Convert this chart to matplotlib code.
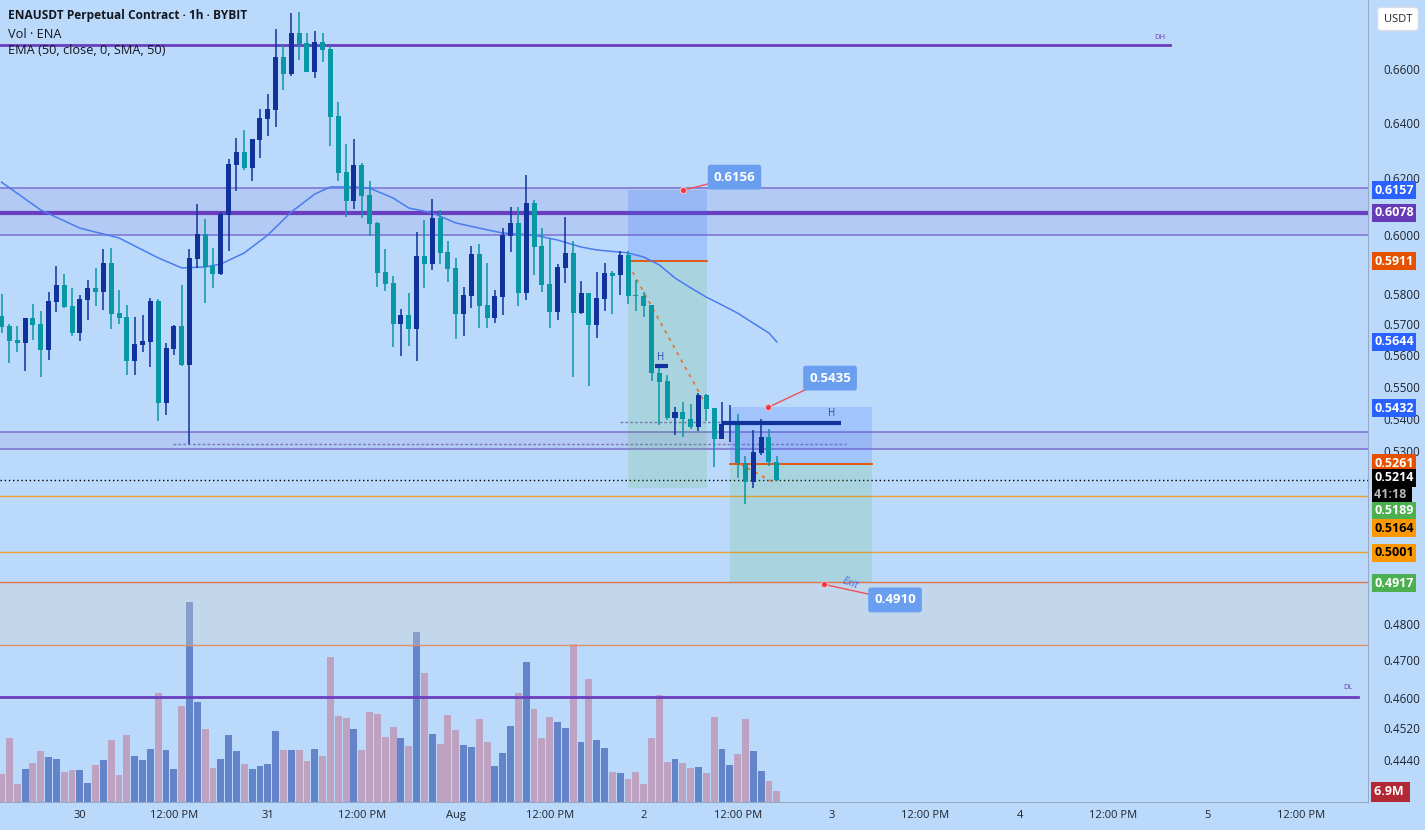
import matplotlib
matplotlib.use("Agg")
import matplotlib.pyplot as plt
import matplotlib.transforms as mtransforms
import numpy as np

plt.rcParams["font.family"] = ["Open Sans", "DejaVu Sans"]

# ENAUSDT 1h candles, hours counted from Jul 30 00:00
first_hour = -10
opens = [0.5727, 0.5694, 0.5649, 0.5639, 0.5721, 0.5701, 0.5617, 0.5773, 0.5831, 0.5760,
         0.5672, 0.5780, 0.5821, 0.5807, 0.5905, 0.5737, 0.5724, 0.5582, 0.5633, 0.5643,
         0.5777, 0.5449, 0.5620, 0.5694, 0.5569, 0.5918, 0.6003, 0.5895, 0.5868, 0.6070,
         0.6246, 0.6293, 0.6235, 0.6336, 0.6413, 0.6446, 0.6645, 0.6581, 0.6738, 0.6699,
         0.6589, 0.6703, 0.6676, 0.6424, 0.6221, 0.6119, 0.6246, 0.6140, 0.6042, 0.5874,
         0.5837, 0.5701, 0.5731, 0.5685, 0.5929, 0.5901, 0.6059, 0.5942, 0.5888, 0.5734,
         0.5794, 0.5935, 0.5764, 0.5721, 0.5790, 0.5997, 0.6042, 0.5804, 0.6112, 0.5963,
         0.5834, 0.5740, 0.5888, 0.5939, 0.5737, 0.5804, 0.5698, 0.5784, 0.5871, 0.5864,
         0.5932, 0.5797, 0.5794, 0.5764, 0.5543, 0.5518, 0.5402, 0.5421, 0.5399, 0.5374,
         0.5474, 0.5433, 0.5337, 0.5384, 0.5384, 0.5264, 0.5207, 0.5294, 0.5344, 0.5267]
highs = [0.5800, 0.5701, 0.5694, 0.5721, 0.5767, 0.5744, 0.5807, 0.5895, 0.5868, 0.5821,
         0.5797, 0.5847, 0.5888, 0.5952, 0.5956, 0.5814, 0.5764, 0.5724, 0.5731, 0.5787,
         0.5784, 0.5639, 0.5698, 0.5831, 0.5952, 0.6108, 0.6056, 0.5956, 0.6080, 0.6268,
         0.6344, 0.6373, 0.6340, 0.6450, 0.6506, 0.6753, 0.6691, 0.6816, 0.6820, 0.6738,
         0.6745, 0.6738, 0.6687, 0.6476, 0.6322, 0.6340, 0.6253, 0.6189, 0.6045, 0.5952,
         0.5861, 0.5750, 0.5804, 0.6010, 0.6052, 0.6126, 0.6087, 0.5980, 0.5922, 0.5824,
         0.5963, 0.5970, 0.5905, 0.5814, 0.6024, 0.6098, 0.6098, 0.6211, 0.6122, 0.6024,
         0.5987, 0.5901, 0.6063, 0.5980, 0.5844, 0.5804, 0.5874, 0.5905, 0.5878, 0.5946,
         0.5946, 0.5847, 0.5807, 0.5764, 0.5562, 0.5537, 0.5436, 0.5452, 0.5446, 0.5480,
         0.5477, 0.5433, 0.5452, 0.5443, 0.5415, 0.5285, 0.5365, 0.5399, 0.5368, 0.5285]
lows = [0.5672, 0.5575, 0.5611, 0.5550, 0.5649, 0.5531, 0.5585, 0.5740, 0.5754, 0.5662,
        0.5646, 0.5714, 0.5760, 0.5747, 0.5685, 0.5701, 0.5537, 0.5537, 0.5611, 0.5563,
        0.5393, 0.5411, 0.5601, 0.5566, 0.5322, 0.5888, 0.5770, 0.5821, 0.5865, 0.5946,
        0.6154, 0.6228, 0.6189, 0.6271, 0.6351, 0.6384, 0.6521, 0.6573, 0.6634, 0.6589,
        0.6566, 0.6626, 0.6314, 0.6189, 0.6063, 0.6091, 0.6059, 0.5997, 0.5824, 0.5811,
        0.5626, 0.5598, 0.5630, 0.5582, 0.5821, 0.5881, 0.5901, 0.5841, 0.5652, 0.5662,
        0.5754, 0.5688, 0.5688, 0.5704, 0.5731, 0.5942, 0.5760, 0.5780, 0.5864, 0.5807,
        0.5688, 0.5714, 0.5837, 0.5531, 0.5734, 0.5502, 0.5656, 0.5744, 0.5734, 0.5797,
        0.5767, 0.5744, 0.5724, 0.5518, 0.5380, 0.5396, 0.5350, 0.5344, 0.5368, 0.5362,
        0.5393, 0.5252, 0.5337, 0.5328, 0.5219, 0.5142, 0.5189, 0.5288, 0.5255, 0.5210]
closes = [0.5691, 0.5646, 0.5639, 0.5721, 0.5698, 0.5617, 0.5777, 0.5831, 0.5757, 0.5672,
          0.5784, 0.5821, 0.5807, 0.5905, 0.5734, 0.5721, 0.5582, 0.5636, 0.5646, 0.5777,
          0.5449, 0.5623, 0.5694, 0.5569, 0.5922, 0.6003, 0.5891, 0.5868, 0.6073, 0.6249,
          0.6293, 0.6235, 0.6340, 0.6417, 0.6450, 0.6645, 0.6581, 0.6738, 0.6695, 0.6589,
          0.6703, 0.6672, 0.6420, 0.6217, 0.6119, 0.6246, 0.6136, 0.6038, 0.5871, 0.5834,
          0.5701, 0.5731, 0.5685, 0.5929, 0.5901, 0.6059, 0.5939, 0.5884, 0.5734, 0.5797,
          0.5935, 0.5760, 0.5721, 0.5794, 0.6000, 0.6042, 0.5804, 0.6112, 0.5959, 0.5831,
          0.5740, 0.5891, 0.5939, 0.5737, 0.5804, 0.5698, 0.5787, 0.5871, 0.5861, 0.5932,
          0.5794, 0.5794, 0.5760, 0.5543, 0.5515, 0.5402, 0.5421, 0.5399, 0.5374, 0.5474,
          0.5430, 0.5337, 0.5384, 0.5390, 0.5264, 0.5207, 0.5297, 0.5344, 0.5267, 0.5214]
volumes_m = [17.6, 40.1, 11.3, 20.7, 24.5, 32.0, 28.2, 27.0, 18.8, 20.1,
             20.1, 11.9, 23.2, 26.3, 38.9, 16.9, 42.0, 28.8, 26.3, 33.2,
             68.3, 32.6, 20.7, 60.2, 125.4, 62.7, 45.8, 21.3, 27.0, 42.0,
             32.0, 23.8, 20.7, 22.6, 23.8, 44.5, 32.6, 32.6, 32.6, 25.7,
             33.2, 28.8, 90.9, 53.9, 52.7, 45.8, 32.6, 56.4, 55.2, 40.8,
             47.0, 40.1, 35.1, 106.6, 80.9, 42.6, 36.4, 54.5, 45.1, 35.7,
             34.5, 52.0, 37.6, 22.6, 30.7, 47.7, 68.3, 87.8, 58.3, 40.1,
             53.3, 50.2, 46.4, 99.1, 37.6, 77.1, 38.9, 33.9, 18.8, 18.2,
             14.4, 18.8, 11.3, 40.1, 67.1, 25.1, 27.0, 24.5, 21.3, 21.9,
             18.2, 53.3, 33.2, 23.2, 30.1, 52.0, 32.0, 19.4, 13.2, 6.9]

# EMA(50) line
ema_hours = [-10, -5, 0, 5, 10, 13, 16, 18, 21, 24, 27, 30, 32, 35, 37, 40, 42, 45,
             48, 51, 54, 58, 61, 64, 66, 70, 72, 74, 76, 78, 80, 82, 84, 86, 88, 89]
ema_values = [0.6185, 0.6087, 0.6024, 0.5990, 0.5922, 0.5888, 0.5891, 0.5901, 0.5939,
              0.6000, 0.6080, 0.6143, 0.6168, 0.6168, 0.6164, 0.6129, 0.6094, 0.6077,
              0.6042, 0.6024, 0.6007, 0.6000, 0.5983, 0.5959, 0.5949, 0.5939, 0.5925,
              0.5898, 0.5854, 0.5821, 0.5790, 0.5764, 0.5737, 0.5704, 0.5672, 0.5643]

# drawn levels
daily_high, daily_low = 0.6692, 0.4602
upper_zone = (0.6000, 0.6165)
key_level = 0.6078
lower_zone = (0.5307, 0.5360)
orange_levels = [0.5164, 0.5001]
exit_zone = (0.4742, 0.4917)
last_price = 0.5214

short_pos = {"start": 70.0, "end": 80.1, "stop": 0.6156, "entry": 0.5911, "target": 0.5189}
long_pos = {"start": 83.0, "end": 101.1, "top": 0.5435, "entry": 0.5261, "bottom": 0.4917}

xtick_hours = [0, 12, 24, 36, 48, 60, 72, 84, 96, 108, 120, 132, 144, 156]
xtick_labels = ["30", "12:00 PM", "31", "12:00 PM", "Aug", "12:00 PM", "2", "12:00 PM",
                "3", "12:00 PM", "4", "12:00 PM", "5", "12:00 PM"]
ytick_values = [0.6600, 0.6400, 0.6200, 0.6000, 0.5800, 0.5700, 0.5600, 0.5500, 0.5400,
                0.5300, 0.4800, 0.4700, 0.4600, 0.4520, 0.4440]

# price scale badges: text, position, face colour, text colour
badge_text = ["0.6157", "0.6078", "0.5911", "0.5644", "0.5432", "0.5261",
              "0.5214", "41:18 ", "0.5189", "0.5164", "0.5001", "0.4917"]
badge_pos = [0.6157, 0.6078, 0.5911, 0.5644, 0.5432, 0.5263,
             0.5220, 0.5170, 0.5121, 0.5071, 0.4999, 0.4913]
badge_face = ["#2962ff", "#673ab7", "#e65100", "#2962ff", "#2962ff", "#e65100",
              "black", "black", "#4caf50", "#ff9800", "#ff9800", "#4caf50"]
badge_color = ["white", "white", "white", "white", "white", "white",
               "white", "#b8b8b8", "white", "black", "black", "white"]

BG = "#bbdafb"
UP = "#10329a"
DOWN = "#0897a5"
VOL_UP = "#6384c8"
VOL_DOWN = "#bda2c2"
PURPLE = "#6a3fbf"
ZONE_LINE = "#7b6fd0"

hours = np.arange(first_hour, first_hour + len(opens))
o = np.array(opens); h = np.array(highs); l = np.array(lows); c = np.array(closes)
up = c >= o

fig = plt.figure(figsize=(14.25, 8.30), dpi=100)
fig.patch.set_facecolor(BG)
rect = [0, 28 / 830, 1368 / 1425, 802 / 830]

# volume pane underneath
axv = fig.add_axes(rect, zorder=1)
axv.set_facecolor(BG)
axv.bar(hours, volumes_m, width=0.88, color=np.where(up, VOL_UP, VOL_DOWN))
axv.set_ylim(0, 503)
axv.set_xlim(-10.2, 164.5)
axv.axis("off")

ax = fig.add_axes(rect, zorder=2)
ax.patch.set_alpha(0)
ax.set_yscale("log")
ax.set_xlim(-10.2, 164.5)
ax.set_ylim(0.4333, 0.6867)

# horizontal levels and zones
ax.axhspan(*upper_zone, color="#7e57c2", alpha=0.12, lw=0, zorder=0)
ax.axhspan(*lower_zone, color="#7e57c2", alpha=0.12, lw=0, zorder=0)
for y in list(upper_zone) + list(lower_zone):
    ax.axhline(y, color=ZONE_LINE, lw=1.1, zorder=1)
ax.axhline(key_level, color=PURPLE, lw=3, zorder=1)
ax.axhspan(*exit_zone, color="#d0d0d0", alpha=0.35, lw=0, zorder=0)
ax.axhline(exit_zone[1], color="#e5734a", lw=1, zorder=1)
ax.axhline(exit_zone[0], color="#e0906a", lw=1, zorder=1)
for y in orange_levels:
    ax.axhline(y, color="#f0a030", lw=1, zorder=1)
ax.plot([-10.2, 139.2], [daily_high, daily_high], color=PURPLE, lw=2, zorder=1)
ax.plot([-10.2, 163.2], [daily_low, daily_low], color=PURPLE, lw=2, zorder=1)
ax.text(137.9, 0.6722, "DH", fontsize=5.5, color=PURPLE, ha="center", va="center")
ax.text(161.9, 0.4627, "DL", fontsize=5.5, color=PURPLE, ha="center", va="center")
ax.axhline(last_price, color="black", lw=1, ls=(0, (1, 2)), zorder=1)
ax.plot([11.9, 97.8], [0.5323, 0.5323], color="#7a78b8", lw=1, ls=(0, (2, 1.5)), zorder=1)
ax.plot([69.0, 82.0], [0.5389, 0.5389], color="#7a78b8", lw=1, ls=(0, (2, 1.5)), zorder=1)

# position boxes
sp = short_pos
ax.fill_between([sp["start"], sp["end"]], sp["entry"], sp["stop"], color="#2962ff", alpha=0.18, lw=0, zorder=1)
ax.fill_between([sp["start"], sp["end"]], sp["target"], sp["entry"], color="#4caf50", alpha=0.16, lw=0, zorder=1)
ax.plot([sp["start"], sp["end"]], [sp["entry"], sp["entry"]], color="#e65100", lw=1.3, zorder=2)
lp = long_pos
ax.fill_between([lp["start"], lp["end"]], lp["entry"], lp["top"], color="#2962ff", alpha=0.18, lw=0, zorder=1)
ax.fill_between([lp["start"], lp["end"]], lp["bottom"], lp["entry"], color="#4caf50", alpha=0.16, lw=0, zorder=1)
ax.plot([lp["start"], lp["end"]], [lp["entry"], lp["entry"]], color="#e65100", lw=1.3, zorder=2)
ax.plot([70.6, 80.1], [0.5874, 0.5436], color="#e8702a", lw=1.2, ls=(0, (2, 3)), zorder=2)
ax.plot([84.3, 88.5], [0.5261, 0.5207], color="#e8702a", lw=1.2, ls=(0, (2, 3)), zorder=2)

# EMA
ax.plot(ema_hours, ema_values, color="#4a7cf0", lw=1.1, zorder=3)

# candles
colors = np.where(up, UP, DOWN)
ax.vlines(hours, l, h, colors=colors, lw=1.1, zorder=4)
body_low = np.minimum(o, c)
body_h = np.maximum(np.abs(c - o), 0.0003)
ax.bar(hours, body_h, bottom=body_low, width=0.64, color=colors, lw=0, zorder=5)

# swing high markers
ax.plot([73.4, 75.1], [0.5565, 0.5565], color=UP, lw=3, solid_capstyle="butt", zorder=5)
ax.text(74.2, 0.5594, "H", fontsize=7, color="#2a4aa0", ha="center", va="center", zorder=6)
ax.plot([82.0, 97.2], [0.5386, 0.5386], color=UP, lw=3, solid_capstyle="butt", zorder=5)
ax.text(96.0, 0.5417, "H", fontsize=7, color="#2a4aa0", ha="center", va="center", zorder=6)

# price callouts
callouts = [((77.0, 0.6156), (83.6, 0.6203), "0.6156"),
            ((87.9, 0.5435), (95.8, 0.5527), "0.5435"),
            ((95.0, 0.4910), (104.1, 0.4866), "0.4910")]
for (dx, dy), (bx, by), txt in callouts:
    ax.plot([dx, bx], [dy, by], color="#f0505a", lw=1, zorder=6)
    ax.plot(dx, dy, "o", ms=4.5, color="#f23645", mec="#f6c0c0", mew=0.8, zorder=7)
    ax.text(bx, by, txt, fontsize=9.5, fontweight="bold", color="white", ha="center", va="center",
            zorder=8, bbox=dict(boxstyle="round,pad=0.45,rounding_size=0.2", fc="#6a9ff0", ec="none"))
ax.text(98.3, 0.4913, "Exit", fontsize=7.5, style="italic", color="#3d6fe0", rotation=-20,
        ha="center", va="center", zorder=7)

# axes styling
for s in ["top", "left"]:
    ax.spines[s].set_visible(False)
ax.spines["right"].set_color("#97a9c4")
ax.spines["bottom"].set_color("#97a9c4")
ax.yaxis.tick_right()
ax.yaxis.set_minor_locator(matplotlib.ticker.NullLocator())
ax.set_yticks(ytick_values)
ax.set_yticklabels([f"{v:.4f}" for v in ytick_values])
ax.tick_params(axis="y", length=0, pad=11, labelsize=8.5, labelcolor="#20242e")
ax.set_xticks(xtick_hours)
ax.set_xticklabels(xtick_labels)
ax.tick_params(axis="x", length=0, pad=6, labelsize=8, labelcolor="#20242e")

trans = mtransforms.blended_transform_factory(ax.transAxes, ax.transData)
for txt, pos, fc, tc in zip(badge_text, badge_pos, badge_face, badge_color):
    ax.text(1.0045, pos, txt, transform=trans, fontsize=9, fontweight="bold", color=tc,
            ha="left", va="center", clip_on=False, zorder=10,
            bbox=dict(boxstyle="square,pad=0.2", fc=fc, ec="none"))
ax.text(1.0045, 0.4358, "6.9M ", transform=trans, fontsize=9, fontweight="bold", color="white",
        ha="left", va="center", clip_on=False, zorder=10,
        bbox=dict(boxstyle="square,pad=0.25", fc="#b22833", ec="none"))

fig.text(1398 / 1425, 1 - 19 / 830, "USDT", fontsize=8, color="#20242e", ha="center", va="center",
         bbox=dict(boxstyle="round,pad=0.55,rounding_size=0.3", fc="white", ec="#d8dde6"))

# legend text
fig.text(8 / 1425, 1 - 16 / 830, "ENAUSDT Perpetual Contract · 1h · BYBIT", fontsize=8.6,
         fontweight="bold", color="#131722", va="center", zorder=20)
fig.text(8 / 1425, 1 - 34 / 830, "Vol · ENA", fontsize=9.2, color="#131722", va="center", zorder=20)
fig.text(8 / 1425, 1 - 51 / 830, "EMA (50, close, 0, SMA, 50)", fontsize=9.2, color="#131722",
         va="center", zorder=20)

fig.savefig("out.png", dpi=100, facecolor=BG)
